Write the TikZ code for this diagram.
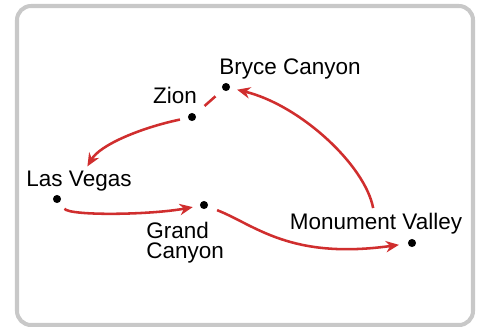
\documentclass[tikz,border=0pt]{standalone}
\usepackage{fontspec}
\setmainfont{Liberation Sans}
\usepackage{xcolor}
\usetikzlibrary{arrows.meta}
\definecolor{routered}{RGB}{208,46,46}
\definecolor{framegray}{RGB}{200,200,200}
\tikzset{
  stop/.style={circle, fill=black, inner sep=0pt, minimum size=4.6pt},
  place/.style={inner sep=0pt, font=\fontsize{12.8}{11.4}\selectfont},
  leg/.style={routered, line width=1.45pt, -{Stealth[length=7.5pt, width=6.5pt]}}
}

\begin{document}
\begin{tikzpicture}[x=0.02cm, y=-0.02cm]
        \useasboundingbox (0,0) rectangle (479,326);
        % Frame
        \draw[framegray, line width=2.3pt, rounded corners=8pt] (17,6) rectangle (473,325);

        % Stops
        \node[stop] (bryce) at (226,87) {};
        \node[stop] (zion) at (192,117) {};
        \node[stop] (vegas) at (57,199) {};
        \node[stop] (grand) at (204,205) {};
        \node[stop] (monument) at (412,243) {};

        % Labels
        \node[place, anchor=base] (bryceL) at (290,74) {Bryce Canyon};
        \node[place, anchor=base] (zionL) at (175,103) {Zion};
        \node[place, anchor=base] (vegasL) at (79,186) {Las Vegas};
        \node[place, anchor=north west, align=left] (grandL) at (146,222) {Grand\\Canyon};
        \node[place, anchor=base] (monumentL) at (376,229) {Monument Valley};

        % Route
        \draw[routered, line width=1.45pt, shorten <=7pt, shorten >=5.5pt] (zion) -- (bryce);
        \draw[leg, shorten <=4.5pt, shorten >=2.5pt] (zion) .. controls (140,128) and (100,145) .. (vegasL);
        \draw[leg, shorten <=4.5pt, shorten >=4pt] (vegas) .. controls (70,216) and (150,215) .. (grand);
        \draw[leg, shorten <=5.5pt, shorten >=5pt] (grand) .. controls (255,225) and (290,260) .. (monument);
        \draw[leg, shorten <=2.5pt, shorten >=4pt] (monumentL) .. controls (365,165) and (300,105) .. (bryce);
    \end{tikzpicture}
\end{document}
